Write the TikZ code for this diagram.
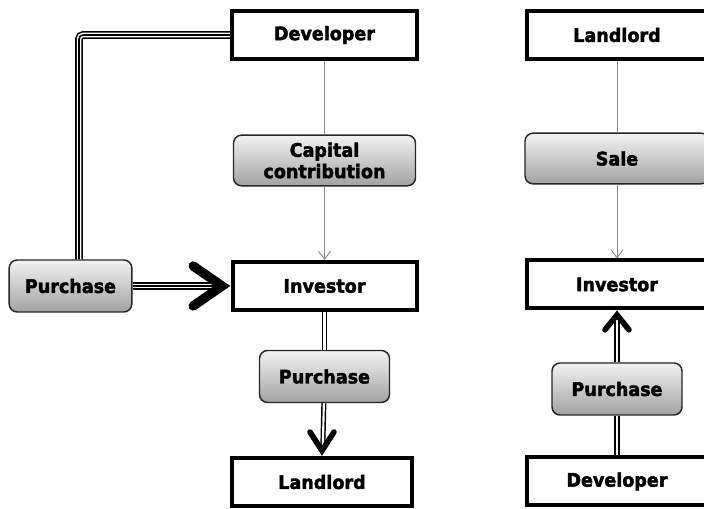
\documentclass[tikz,border=0pt]{standalone}
\usepackage{fontspec}
\setmainfont{DejaVu Sans}[BoldFeatures={FakeBold=2.2,FakeStretch=0.94}]
\usetikzlibrary{arrows.meta}
\definecolor{shadetop}{HTML}{F2F2F2}
\definecolor{shadebot}{HTML}{A2A2A2}
\definecolor{thinline}{HTML}{8A8A8A}

\begin{document}
\begin{tikzpicture}[x=0.75pt,y=-0.75pt,
    font=\fontsize{14}{16}\selectfont\bfseries,
    party/.style={draw=black,line width=3pt,fill=white,minimum width=138pt,minimum height=36pt,inner sep=0pt},
    deal/.style={draw=black!85,line width=1.1pt,rounded corners=6pt,top color=shadetop,bottom color=shadebot,
                 minimum width=97.5pt,minimum height=39pt,inner sep=0pt,align=center},
    thin/.style={draw=thinline,line width=0.7pt},
    thinarr/.style={thin,-{Straight Barb[length=6pt,width=9pt]}},
    dbl/.style={double,line width=1.1pt,double distance=1.6pt},
    trip/.style={draw=black,line width=5.8pt,postaction={draw=white,line width=3.4pt},postaction={draw=black,line width=1.2pt}},
    chev/.style={draw=black,line cap=round,line join=miter}]
\useasboundingbox (0,0) rectangle (704,509);
\clip (0,0) rectangle (704,509);

% left: developer - investor - landlord
\node[party,minimum width=138.75pt] (dev) at (324.5,35) {Developer};
\node[deal,minimum width=136.5pt,minimum height=38pt] (cap) at (324.5,160.5) {Capital\\contribution};
\node[party] (inv) at (324.5,286) {Investor};
\node[deal] (mp) at (324.5,376.5) {Purchase};
\node[party,minimum width=135pt] (ll) at (322,482) {Landlord};
\node[deal,minimum width=92pt] (lp) at (70.5,286) {Purchase};

\draw[thin] (dev) -- (cap);
\draw[thinarr] (cap) -- (inv);
\draw[trip,rounded corners=3pt] (dev.west) -| ([xshift=6.4pt]lp.north);
\draw[trip,shorten >=7pt] (lp.east) -- (inv.west);
\draw[chev,line width=7pt] ([shift={(-28pt,15pt)}]inv.west) -- ([xshift=-6.3pt]inv.west) -- ([shift={(-28pt,-15pt)}]inv.west);
\draw[dbl] (inv) -- (mp);
\draw[dbl,shorten >=5pt] (mp) -- (ll);
\draw[chev,line width=4.2pt] ([shift={(-9pt,18pt)}]ll.north) -- ([yshift=4pt]ll.north) -- ([shift={(9pt,18pt)}]ll.north);

% right: landlord - investor - developer
\node[party,minimum width=135pt] (rll) at (617,35) {Landlord};
\node[deal,minimum width=138pt,minimum height=38pt] (sale) at (617,158.5) {Sale};
\node[party,minimum width=135pt] (rinv) at (617,284.5) {Investor};
\node[deal] (rp) at (617,389) {Purchase};
\node[party,minimum width=135pt] (rdev) at (617,481.5) {Developer};

\draw[thin] (rll) -- (sale);
\draw[thinarr] (sale) -- (rinv);
\draw[dbl] (rdev) -- (rp);
\draw[dbl,shorten >=5pt] (rp) -- (rinv);
\draw[chev,line width=4.2pt] ([shift={(-9pt,-14.5pt)}]rinv.south) -- ([yshift=-3.3pt]rinv.south) -- ([shift={(9pt,-14.5pt)}]rinv.south);
\end{tikzpicture}
\end{document}
